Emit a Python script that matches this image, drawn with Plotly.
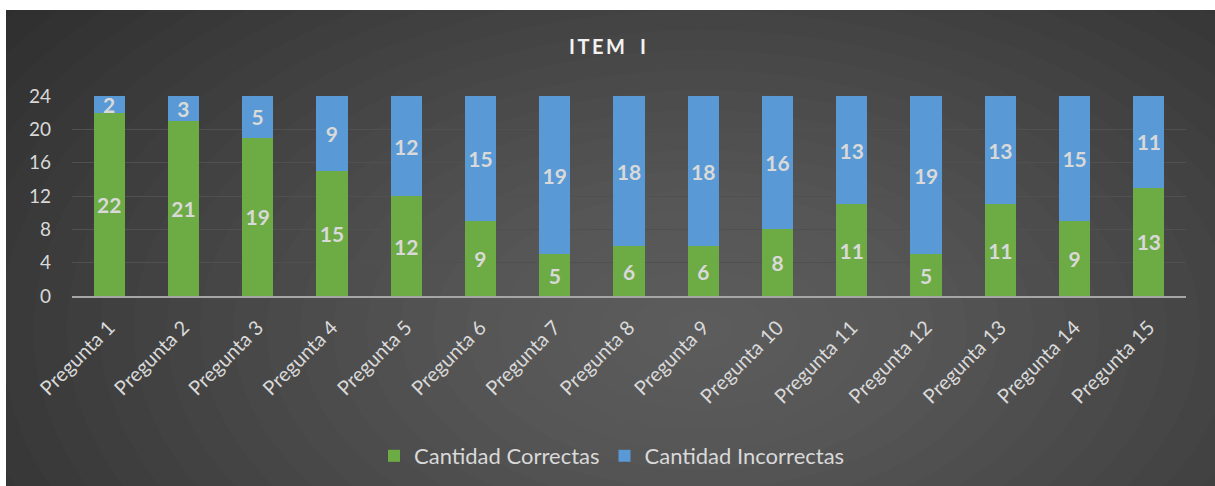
import plotly.graph_objects as go

W, H = 1215, 486
PLOT_L, PLOT_R, PLOT_T, PLOT_B = 72, 1186, 96, 296

preguntas = [f"Pregunta {i}" for i in range(1, 16)]
correctas = [22, 21, 19, 15, 12, 9, 5, 6, 6, 8, 11, 5, 11, 9, 13]
incorrectas = [2, 3, 5, 9, 12, 15, 19, 18, 18, 16, 13, 19, 13, 15, 11]
y_ticks = [0, 4, 8, 12, 16, 20, 24]

_FONT = "Lato, 'Open Sans', sans-serif"
_TEXT = "#d9d9d9"


def px_x(px):
    return (px - PLOT_L) / (PLOT_R - PLOT_L)


def px_y(py):
    return (PLOT_B - py) / (PLOT_B - PLOT_T)


fig = go.Figure()
fig.add_trace(go.Bar(
    x=preguntas, y=correctas, name="Cantidad Correctas",
    marker=dict(color="#6dab44", line=dict(width=0)),
    text=correctas, textposition="inside", insidetextanchor="middle", textangle=0,
    textfont=dict(family=_FONT, size=21, color=_TEXT, weight="bold"),
))
fig.add_trace(go.Bar(
    x=preguntas, y=incorrectas, name="Cantidad Incorrectas",
    marker=dict(color="#5899d6", line=dict(width=0)),
    text=incorrectas, textposition="inside", insidetextanchor="middle", textangle=0,
    textfont=dict(family=_FONT, size=21, color=_TEXT, weight="bold"),
))

# dark chart background, lighter towards the middle
shapes = [dict(
    type="rect", xref="paper", yref="paper", layer="below",
    x0=px_x(6), x1=px_x(W + 20), y0=px_y(H + 20), y1=px_y(10),
    fillcolor="#262626", line=dict(width=0),
)]
cx, cy = 700, 330
n = 30
for k in range(n):
    f = 1 - k / n
    rx, ry = 1000 * f, 600 * f
    shapes.append(dict(
        type="circle", xref="paper", yref="paper", layer="below",
        x0=px_x(cx - rx), x1=px_x(cx + rx),
        y0=px_y(cy + ry), y1=px_y(cy - ry),
        fillcolor="rgba(255,255,255,0.0105)", line=dict(width=0),
    ))
# white page margins on the left and top
shapes.append(dict(type="rect", xref="paper", yref="paper", layer="below",
                   x0=px_x(-300), x1=px_x(6), y0=px_y(H + 300), y1=px_y(-300),
                   fillcolor="white", line=dict(width=0)))
shapes.append(dict(type="rect", xref="paper", yref="paper", layer="below",
                   x0=px_x(-300), x1=px_x(W + 300), y0=px_y(10), y1=px_y(-300),
                   fillcolor="white", line=dict(width=0)))

fig.update_layout(
    width=W, height=H,
    barmode="stack", bargap=0.58,
    paper_bgcolor="white", plot_bgcolor="rgba(0,0,0,0)",
    margin=dict(l=PLOT_L, r=W - PLOT_R, t=PLOT_T, b=H - PLOT_B, autoexpand=False),
    font=dict(family=_FONT, color=_TEXT),
    title=dict(
        text="I\u2009T\u2009E\u2009M\u2003I", x=0.5, xanchor="center",
        y=1 - 47 / H, yanchor="middle",
        font=dict(family=_FONT, size=20, color="#f2f2f2", weight="bold"),
    ),
    uniformtext=dict(minsize=21, mode="show"),
    shapes=shapes,
    showlegend=True,
    legend=dict(
        orientation="h", x=px_x(612), xanchor="center", y=px_y(456), yanchor="middle",
        font=dict(family=_FONT, size=22, color=_TEXT),
        bgcolor="rgba(0,0,0,0)", itemwidth=30, traceorder="normal",
    ),
)
fig.update_yaxes(
    range=[0, 24], tickvals=y_ticks, showgrid=True, gridcolor="#505050", gridwidth=1,
    zeroline=False, showline=False, ticks="", tickfont=dict(size=19, color=_TEXT),
    ticklabelstandoff=20,
)
fig.update_xaxes(
    showline=True, linecolor="#a6a6a6", linewidth=2, ticks="", tickangle=-45,
    tickfont=dict(size=20, color=_TEXT), ticklabelstandoff=10,
)

fig.write_html("out.html", config={"displayModeBar": False},
               post_script="document.body.style.margin='0';")
